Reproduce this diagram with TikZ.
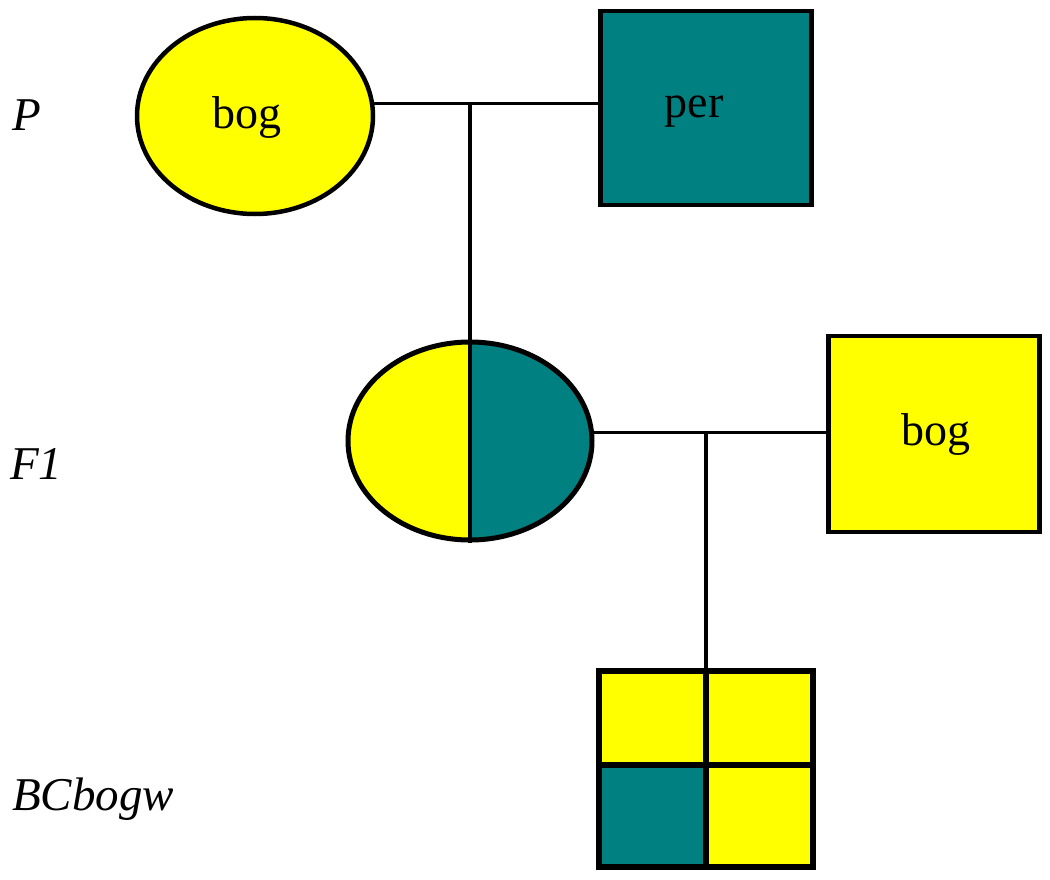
\documentclass[tikz,border=0pt]{standalone}
\usepackage{fontspec}
\setmainfont{Liberation Serif}
\usetikzlibrary{shapes.geometric}
\definecolor{myyellow}{RGB}{255,255,0}
\definecolor{myteal}{RGB}{0,128,128}
\begin{document}
\begin{tikzpicture}[x=1pt,y=-1pt,
  txt/.style={font=\fontsize{46}{50}\selectfont},
  gen/.style={font=\fontsize{47}{50}\selectfont\itshape, anchor=base west, inner sep=0},
  oval/.style={ellipse, draw=black, line width=4.5pt, inner sep=0},
  sq/.style={rectangle, draw=black, line width=4.5pt, inner sep=0},
  cell/.style={rectangle, draw=black, line width=6pt, inner sep=0, minimum width=107pt},
  link/.style={draw=black, line width=3.2pt}]
\useasboundingbox (0,0) rectangle (1050,880);
% P generation
\node[oval, fill=myyellow, minimum width=236pt, minimum height=196pt] (pbog) at (255,116) {};
\node[txt] (pbogt) at (247,118) {bog};
\node[sq, fill=myteal, minimum width=211pt, minimum height=194pt] (per) at (706,108) {};
\node[txt] (pert) at (694,112) {per};
% F1 (half yellow, half teal)
\begin{scope}
\clip (470,441) ellipse [x radius=122, y radius=99];
\fill[myyellow] (340,330) rectangle (470,552);
\fill[myteal] (470,330) rectangle (600,552);
\end{scope}
\node[oval, line width=5pt, minimum width=244pt, minimum height=198pt] (f1) at (470,441) {};
\draw[line width=4pt] (f1.north) -- (f1.south);
\node[sq, fill=myyellow, minimum width=211pt, minimum height=196pt] (bogsq) at (934,434) {};
\node[txt] (bogsqt) at (936,435) {bog};
% BC grid
\node[cell, fill=myyellow, minimum height=95pt] (g11) at (652.5,718) {};
\node[cell, fill=myyellow, minimum height=95pt] (g12) at (759.5,718) {};
\node[cell, fill=myteal, minimum height=102pt] (g21) at (652.5,816) {};
\node[cell, fill=myyellow, minimum height=102pt] (g22) at (759.5,816) {};
% connectors
\coordinate (pm) at (470,104);
\coordinate (fm) at (706,434);
\draw[link] (pbog.6) -- (per.west |- pbog.6);
\draw[link] (pm) -- (f1.north);
\draw[link] (f1.4) -- (bogsq.west |- f1.4);
\draw[link] (fm) -- (fm |- g11.north);
% generation labels
\node[gen] (lp) at (12,131) {P};
\node[gen] (lf1) at (10,479) {F1};
\node[gen] (lbc) at (12,810) {BCbogw};
\end{tikzpicture}
\end{document}
